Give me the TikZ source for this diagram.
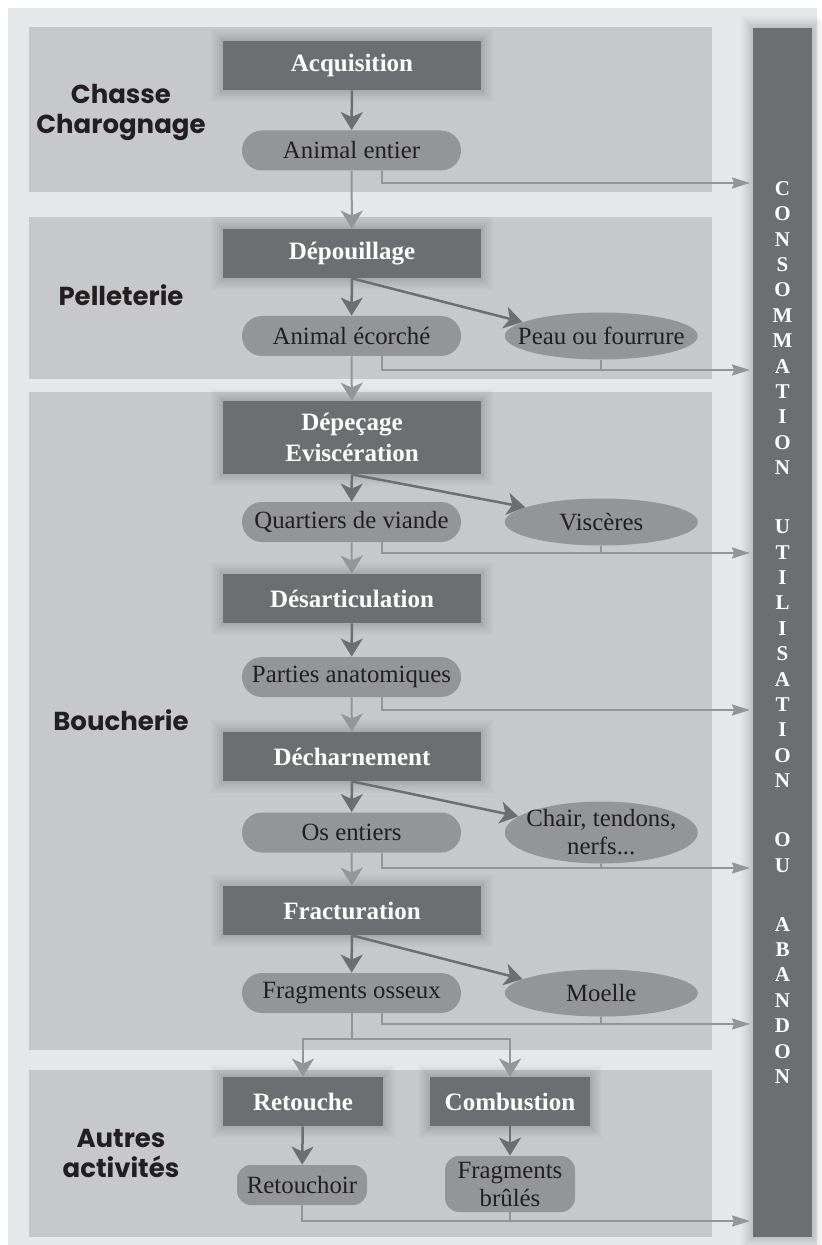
\documentclass[tikz,border=0pt]{standalone}
\usepackage{fontspec}
\setmainfont{Liberation Serif}
\newfontfamily\headfont{Poppins}
\usepackage{tikz}
\usetikzlibrary{positioning, shapes.geometric, arrows.meta}

\definecolor{outerbg}{HTML}{E6E7E8}
\definecolor{panelgray}{HTML}{C7C8CA}
\definecolor{darkgray}{HTML}{6D6E71}
\definecolor{midgray}{HTML}{939598}
\definecolor{inkgray}{HTML}{231F20}

\begin{document}
\begin{tikzpicture}[
    x=0.5pt, y=-0.5pt,
    glow/.style={preaction={draw=black, draw opacity=0.02, line width=12pt},
        preaction={draw=black, draw opacity=0.02, line width=10pt},
        preaction={draw=black, draw opacity=0.025, line width=8pt},
        preaction={draw=black, draw opacity=0.025, line width=6pt},
        preaction={draw=black, draw opacity=0.03, line width=4pt},
        preaction={draw=black, draw opacity=0.03, line width=2pt}},
    stage/.style={rectangle, fill=darkgray, text=white, minimum width=129pt, minimum height=24.5pt, align=center,
        font=\fontsize{12.5}{15.5}\selectfont\bfseries, glow},
    product/.style={rectangle, rounded corners=10pt, fill=midgray, text=inkgray, minimum width=109.5pt, minimum height=20pt,
        align=center, font=\fontsize{12.4}{14}\selectfont},
    residue/.style={rectangle, rounded corners=7pt, fill=midgray, text=inkgray, minimum width=65pt, minimum height=20pt,
        inner sep=2pt, align=center, font=\fontsize{12.4}{14}\selectfont},
    byproduct/.style={ellipse, fill=midgray, text=inkgray, minimum width=96.5pt, minimum height=23.5pt,
        inner xsep=-9pt, inner ysep=-2pt, align=center, font=\fontsize{12.4}{14}\selectfont},
    sectionlabel/.style={text=inkgray, align=center, font=\headfont\fontsize{13}{15}\selectfont\bfseries},
    sidebar/.style={rectangle, fill=darkgray, text=white, minimum width=29.5pt, minimum height=604.5pt, align=center,
        font=\fontsize{10.5}{12.7}\selectfont\bfseries, glow},
    proc/.style={draw=darkgray, line width=1.25pt, -{Stealth[length=9pt, width=11pt, inset=2.5pt]}},
    flow/.style={draw=midgray, line width=1pt, -{Stealth[length=9pt, width=11pt, inset=2.5pt]}},
    exit/.style={draw=midgray, line width=1pt, -{Stealth[length=9pt, width=5.5pt, inset=1pt]}},
    exitjoin/.style={draw=midgray, line width=1pt}
]

    % Background and panels
    \useasboundingbox (0,0) rectangle (822,1245);
    \fill[outerbg] (8,8) rectangle (817,1245);
    \fill[panelgray] (29,27) rectangle (712,192);
    \fill[panelgray] (29,217) rectangle (712,379);
    \fill[panelgray] (29,392) rectangle (712,1050);
    \fill[panelgray] (29,1070) rectangle (712,1237);

    % Section labels
    \node[sectionlabel] (chasse)    at (121,112)  {Chasse\\Charognage};
    \node[sectionlabel] (pellet)    at (121,295)  {Pelleterie};
    \node[sectionlabel] (boucherie) at (121,720)  {Boucherie};
    \node[sectionlabel] (autres)    at (121,1153) {Autres\\activités};

    % Side bar
    \node[sidebar] (bar) at (782.5,632.5) {C\\O\\N\\S\\O\\M\\M\\A\\T\\I\\O\\N\\[16.8pt]U\\T\\I\\L\\I\\S\\A\\T\\I\\O\\N\\[16.8pt]O\\U\\[16.8pt]A\\B\\A\\N\\D\\O\\N};

    % Stages
    \node[stage] (acq)      at (352,65.5)   {Acquisition};
    \node[stage] (depouil)  at (352,253.5)  {Dépouillage};
    \node[stage, minimum height=36.5pt] (depecage) at (352,437.5) {Dépeçage\\Eviscération};
    \node[stage] (desart)   at (352,598.5)  {Désarticulation};
    \node[stage] (decharn)  at (352,756.5)  {Décharnement};
    \node[stage] (fract)    at (352,910.5)  {Fracturation};
    \node[stage, minimum width=80pt] (retouche) at (303,1101.5) {Retouche};
    \node[stage, minimum width=80pt] (combust)  at (510,1101.5) {Combustion};

    % Products
    \node[product] (whole)     at (351.5,150.5) {Animal entier};
    \node[product] (ecorche)   at (351.5,336)   {Animal écorché};
    \node[product] (quartiers) at (351.5,522)   {Quartiers de viande};
    \node[product] (parties)   at (351.5,677)   {Parties anatomiques};
    \node[product] (osent)     at (351.5,832.5) {Os entiers};
    \node[product] (fragos)    at (351.5,993)   {Fragments osseux};
    \node[residue] (retouchoir) at (302,1185)   {Retouchoir};
    \node[residue, minimum height=28pt] (brules) at (510,1184) {Fragments\\brûlés};

    % By-products
    \node[byproduct] (peau)     [right=21.5pt of ecorche]   {Peau ou fourrure};
    \node[byproduct] (visceres) [right=21.5pt of quartiers] {Viscères};
    \node[byproduct, minimum height=31pt] (chair) [right=21.5pt of osent] {Chair, tendons,\\nerfs...};
    \node[byproduct] (moelle)   [right=21.5pt of fragos]    {Moelle};

    % Inside each stage
    \draw[proc] (acq) -- (whole);
    \draw[proc] (depouil) -- (ecorche);
    \draw[proc] (depouil.south) -- (peau.170);
    \draw[proc] (depecage) -- (quartiers);
    \draw[proc] (depecage.south) -- (visceres.169);
    \draw[proc] (desart) -- (parties);
    \draw[proc] (decharn) -- (osent);
    \draw[proc] (decharn.south) -- (chair.169);
    \draw[proc] (fract) -- (fragos);
    \draw[proc] (fract.south) -- (moelle.170);
    \draw[proc] (retouche) -- (retouchoir);
    \draw[proc] (combust) -- (brules);

    % From stage to stage
    \draw[flow] (whole) -- (depouil);
    \draw[flow] (ecorche) -- (depecage);
    \draw[flow] (quartiers) -- (desart);
    \draw[flow] (parties) -- (decharn);
    \draw[flow] (osent) -- (fract);
    \coordinate (split) at (351.5,1039);
    \draw[exitjoin] (fragos.south) -- (split);
    \draw[flow] (split) -| (retouche.north);
    \draw[flow] (split) -| (combust.north);

    % To the side bar
    \coordinate (in1) at (750,183);
    \coordinate (in2) at (750,370);
    \coordinate (in3) at (750,553);
    \coordinate (in4) at (750,710);
    \coordinate (in5) at (750,868);
    \coordinate (in6) at (750,1024);
    \coordinate (in7) at (750,1221);
    \draw[exit] ([xshift=15pt]whole.south) |- (in1);
    \draw[exit] ([xshift=15pt]ecorche.south) |- (in2);
    \draw[exitjoin] (peau.south) -- (peau.south |- in2);
    \draw[exit] ([xshift=15pt]quartiers.south) |- (in3);
    \draw[exitjoin] (visceres.south) -- (visceres.south |- in3);
    \draw[exit] ([xshift=15pt]parties.south) |- (in4);
    \draw[exit] ([xshift=15pt]osent.south) |- (in5);
    \draw[exitjoin] (chair.south) -- (chair.south |- in5);
    \draw[exit] ([xshift=15pt]fragos.south) |- (in6);
    \draw[exitjoin] (moelle.south) -- (moelle.south |- in6);
    \draw[exit] (retouchoir.south) |- (in7);
    \draw[exitjoin] (brules.south) -- (brules.south |- in7);

\end{tikzpicture}
\end{document}
